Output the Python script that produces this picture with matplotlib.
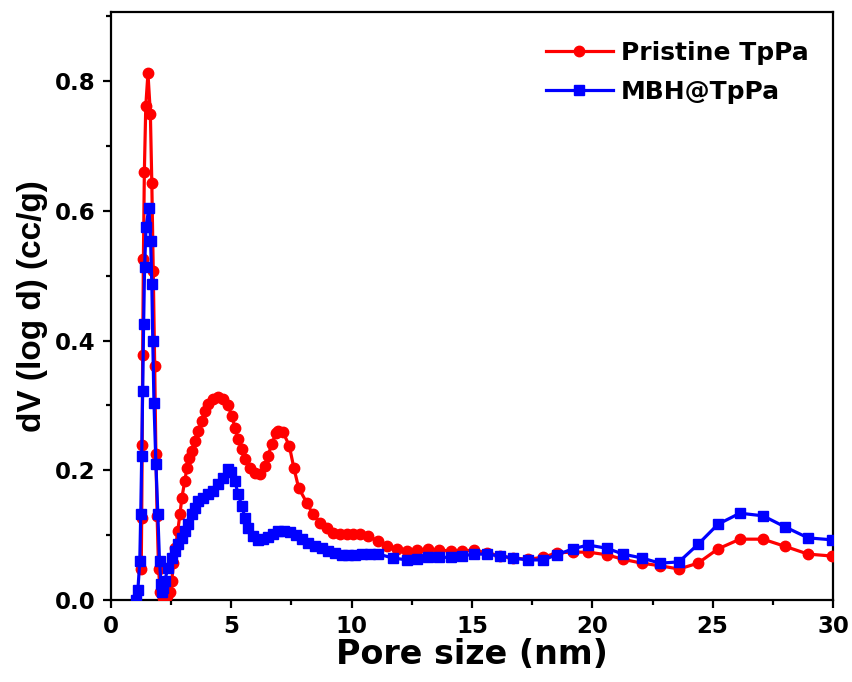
import matplotlib
matplotlib.use("Agg")
import matplotlib.pyplot as plt
from matplotlib.ticker import MultipleLocator

# Pristine TpPa
x_red = [1.26, 1.28, 1.30, 1.32, 1.35, 1.39, 1.45, 1.54, 1.64, 1.70, 1.76, 1.82,
         1.87, 1.92, 1.98, 2.05, 2.15, 2.25, 2.35, 2.45, 2.53, 2.60, 2.68, 2.78,
         2.87, 2.95, 3.07, 3.16, 3.24, 3.37, 3.49, 3.61, 3.78, 3.91, 4.03, 4.24,
         4.45, 4.65, 4.86, 5.03, 5.15, 5.28, 5.44, 5.57, 5.77, 5.98, 6.19, 6.40,
         6.52, 6.69, 6.86, 6.96, 7.15, 7.41, 7.60, 7.80, 8.14, 8.38, 8.68, 8.96,
         9.23, 9.51, 9.80, 10.05, 10.34, 10.68, 11.10, 11.47, 11.88, 12.30, 12.71,
         13.17, 13.63, 14.13, 14.58, 15.08, 15.62, 16.16, 16.70, 17.32, 17.95,
         18.53, 19.19, 19.82, 20.60, 21.27, 22.06, 22.81, 23.60, 24.39, 25.22,
         26.13, 27.09, 28.00, 28.96, 29.95]
y_red = [0.048, 0.127, 0.239, 0.378, 0.525, 0.660, 0.762, 0.812, 0.750, 0.643,
         0.507, 0.361, 0.225, 0.130, 0.048, 0.012, 0.004, 0.003, 0.006, 0.012,
         0.030, 0.057, 0.080, 0.107, 0.133, 0.158, 0.184, 0.204, 0.219, 0.230,
         0.246, 0.261, 0.276, 0.292, 0.302, 0.310, 0.313, 0.310, 0.300, 0.284,
         0.266, 0.249, 0.233, 0.218, 0.204, 0.196, 0.195, 0.207, 0.222, 0.241,
         0.258, 0.260, 0.259, 0.238, 0.204, 0.173, 0.150, 0.133, 0.119, 0.111,
         0.103, 0.102, 0.102, 0.102, 0.102, 0.099, 0.091, 0.083, 0.079, 0.076,
         0.077, 0.079, 0.077, 0.076, 0.076, 0.077, 0.073, 0.068, 0.065, 0.063,
         0.066, 0.073, 0.074, 0.074, 0.070, 0.063, 0.057, 0.053, 0.048, 0.057,
         0.079, 0.094, 0.094, 0.083, 0.071, 0.068]

# MBH@TpPa
x_blue = [1.05, 1.12, 1.20, 1.24, 1.28, 1.32, 1.36, 1.40, 1.46, 1.58, 1.65, 1.70,
          1.74, 1.79, 1.87, 1.95, 2.02, 2.08, 2.13, 2.18, 2.24, 2.37, 2.53, 2.66,
          2.78, 2.95, 3.07, 3.20, 3.37, 3.49, 3.61, 3.82, 4.03, 4.24, 4.45, 4.65,
          4.86, 5.00, 5.15, 5.28, 5.44, 5.57, 5.69, 5.90, 6.11, 6.31, 6.52, 6.73,
          6.95, 7.20, 7.45, 7.70, 7.95, 8.20, 8.48, 8.77, 9.02, 9.31, 9.60, 9.85,
          10.14, 10.43, 10.76, 11.10, 11.72, 12.30, 12.71, 13.17, 13.63, 14.13,
          14.58, 15.08, 15.62, 16.16, 16.70, 17.32, 17.95, 18.53, 19.19, 19.82,
          20.60, 21.27, 22.06, 22.81, 23.60, 24.39, 25.22, 26.13, 27.09, 28.00,
          28.96, 29.95]
y_blue = [0.000, 0.015, 0.060, 0.133, 0.222, 0.323, 0.426, 0.513, 0.575, 0.605,
          0.554, 0.488, 0.400, 0.304, 0.210, 0.133, 0.060, 0.025, 0.012, 0.018,
          0.030, 0.050, 0.065, 0.076, 0.087, 0.096, 0.107, 0.117, 0.133, 0.142,
          0.153, 0.158, 0.164, 0.168, 0.179, 0.188, 0.202, 0.198, 0.184, 0.164,
          0.145, 0.127, 0.111, 0.099, 0.093, 0.094, 0.097, 0.102, 0.106, 0.107,
          0.105, 0.101, 0.094, 0.088, 0.083, 0.080, 0.076, 0.072, 0.070, 0.070,
          0.070, 0.071, 0.071, 0.071, 0.065, 0.062, 0.063, 0.066, 0.066, 0.066,
          0.068, 0.071, 0.071, 0.068, 0.065, 0.062, 0.062, 0.070, 0.079, 0.085,
          0.080, 0.071, 0.065, 0.057, 0.059, 0.086, 0.117, 0.134, 0.130, 0.113,
          0.096, 0.093]

labels = ["Pristine TpPa", "MBH@TpPa"]
x_ticks = [0, 5, 10, 15, 20, 25, 30]
y_ticks = [0.0, 0.2, 0.4, 0.6, 0.8]

fig = plt.figure(figsize=(8.53, 6.82), dpi=100)
ax = fig.add_axes([0.130, 0.120, 0.8466, 0.862])

ax.plot(x_red, y_red, color="#FF0000", lw=2.3, marker="o", ms=7.5,
        label=labels[0], zorder=3)
ax.plot(x_blue, y_blue, color="#0000FF", lw=2.3, marker="s", ms=6.5,
        label=labels[1], zorder=4)

ax.set_xlim(0, 30)
ax.set_ylim(0, 0.906)
ax.set_xticks(x_ticks)
ax.set_yticks(y_ticks)
ax.set_yticklabels([f"{v:.1f}" for v in y_ticks])
ax.xaxis.set_minor_locator(MultipleLocator(2.5))
ax.yaxis.set_minor_locator(MultipleLocator(0.1))

for s in ax.spines.values():
    s.set_linewidth(1.6)
ax.tick_params(which="major", direction="out", length=6, width=1.6, pad=5)
ax.tick_params(which="minor", direction="out", length=3.5, width=1.6)
ax.tick_params(top=False, right=False, which="both")

for lab in ax.get_xticklabels() + ax.get_yticklabels():
    lab.set_fontfamily("DejaVu Sans")
    lab.set_fontweight("bold")
    lab.set_fontsize(16.5)

ax.set_xlabel("Pore size (nm)", family="DejaVu Sans", weight="bold",
              size=24, labelpad=0)
ax.set_ylabel("dV (log d) (cc/g)", family="Liberation Sans", weight="bold",
              size=24, labelpad=5)

leg = ax.legend(loc="upper right", frameon=False, handlelength=2.7,
                handletextpad=0.3, labelspacing=0.62,
                bbox_to_anchor=(0.997, 0.99), borderaxespad=0.5,
                prop=dict(family="DejaVu Sans", weight="bold", size=18))

fig.savefig("out.png", dpi=100)
